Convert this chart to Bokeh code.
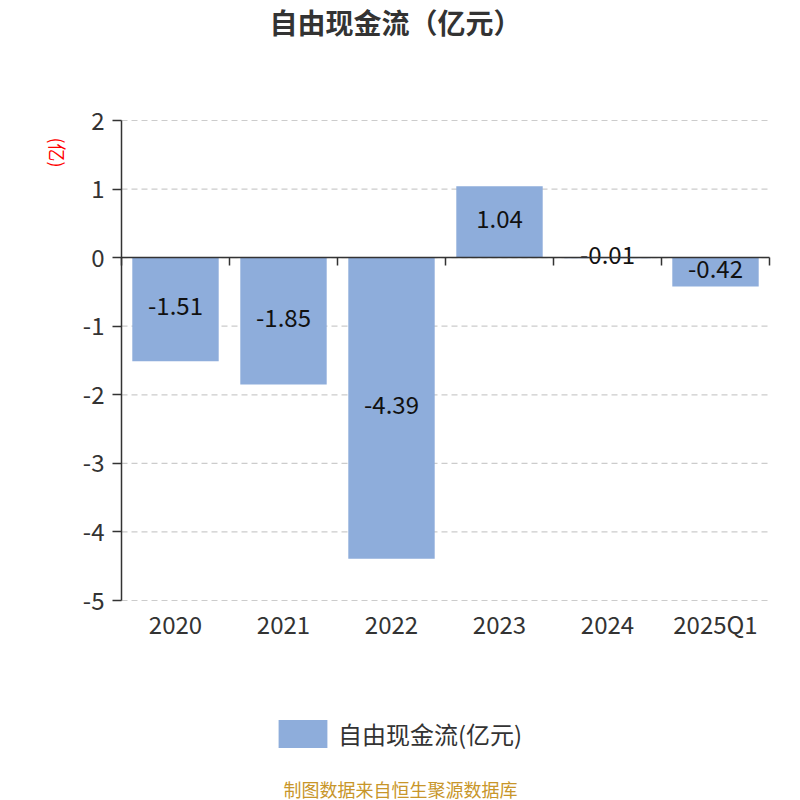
from bokeh.plotting import figure
from bokeh.models import (Range1d, LinearAxis, FixedTicker, Label, Legend, LegendItem, ColumnDataSource)
from bokeh.embed import file_html
from bokeh.resources import INLINE
import math

categories = ["2020", "2021", "2022", "2023", "2024", "2025Q1"]
values = [-1.51, -1.85, -4.39, 1.04, -0.01, -0.42]
value_labels = ["-1.51", "-1.85", "-4.39", "1.04", "-0.01", "-0.42"]
y_ticks = [-5, -4, -3, -2, -1, 0, 1, 2]
series_name = "自由现金流(亿元)"
title_text = "自由现金流（亿元）"
unit_text = "(亿)"
footer_text = "制图数据来自恒生聚源数据库"

FONT = "Noto Sans CJK SC"
BAR = "#8eaddb"
TXT = "#333333"

# layout (pixels): plotting area inside the canvas
W, H = 800, 800
PL, PR, PT, PB = 121, 769, 120, 600

n = len(categories)
ymin, ymax = min(y_ticks), max(y_ticks)
xpx = (PR - PL) / n
ypx = (PB - PT) / (ymax - ymin)
x_range = Range1d(-PL / xpx, n + (W - PR) / xpx)
y_range = Range1d(ymin - (H - PB) / ypx, ymax + PT / ypx)

centers = [i + 0.5 for i in range(n)]
src = ColumnDataSource(dict(x=centers, val=values, mid=[v / 2 for v in values], lab=value_labels))

p = figure(width=W, height=H, output_backend="svg", toolbar_location=None,
           x_range=x_range, y_range=y_range, x_axis_location=None, y_axis_location=None,
           min_border=0)
p.outline_line_color = None
p.background_fill_color = "white"
p.border_fill_color = "white"
p.xgrid.grid_line_color = None
p.ygrid.grid_line_color = None

# dashed horizontal grid lines across the plotting area
p.segment(x0=[0] * len(y_ticks), x1=[n] * len(y_ticks), y0=y_ticks, y1=y_ticks,
          line_color="#cccccc", line_width=1.2, line_dash="6 4")

# y axis at x = 0
ya = LinearAxis(fixed_location=0, bounds=(ymin, ymax), ticker=FixedTicker(ticks=y_ticks))
ya.major_label_overrides = {t: str(t) for t in y_ticks}
ya.axis_line_color = "#333333"
ya.axis_line_width = 1.5
ya.major_tick_line_color = "#333333"
ya.major_tick_line_width = 1.5
ya.major_tick_out = 9
ya.major_tick_in = 0
ya.minor_tick_line_color = None
ya.major_label_text_font = FONT
ya.major_label_text_font_size = "24px"
ya.major_label_text_color = TXT
ya.major_label_standoff = 8
p.add_layout(ya, "left")

# category labels along the bottom of the plotting area
xa = LinearAxis(fixed_location=ymin, ticker=FixedTicker(ticks=centers))
xa.major_label_overrides = {c: lab for c, lab in zip(centers, categories)}
xa.axis_line_color = None
xa.major_tick_line_color = None
xa.minor_tick_line_color = None
xa.major_tick_out = 0
xa.major_tick_in = 0
xa.major_label_text_font = FONT
xa.major_label_text_font_size = "24px"
xa.major_label_text_color = TXT
xa.major_label_standoff = 5
p.add_layout(xa, "below")

# zero line with boundary ticks
bounds = list(range(n + 1))
za = LinearAxis(fixed_location=0, bounds=(0, n), ticker=FixedTicker(ticks=bounds))
za.axis_line_color = "#333333"
za.axis_line_width = 1.5
za.major_tick_line_color = "#333333"
za.major_tick_line_width = 1.5
za.major_tick_out = 8
za.major_tick_in = 0
za.minor_tick_line_color = None
za.major_label_overrides = {b: "" for b in bounds}
p.add_layout(za, "below")

r = p.vbar(x="x", top="val", bottom=0, width=0.8, source=src, fill_color=BAR, line_color=None)
p.text(x="x", y="mid", text="lab", source=src, text_align="center", text_baseline="middle",
       y_offset=-3, text_font_size="24px", text_color="#111111", text_font={"value": FONT})

legend = Legend(items=[LegendItem(label=series_name, renderers=[r])], location=(272, H - 751),
                glyph_width=61, glyph_height=35, label_standoff=5, padding=0, margin=0,
                border_line_alpha=0, background_fill_alpha=0,
                label_text_font=FONT, label_text_font_size="24px", label_text_color=TXT)
p.add_layout(legend, "center")

p.add_layout(Label(x=395, y=H - 21, x_units="screen", y_units="screen", text=title_text,
                   text_align="center", text_baseline="middle", text_font=FONT,
                   text_font_size="28px", text_font_style="bold", text_color=TXT))
p.add_layout(Label(x=57, y=H - 152, x_units="screen", y_units="screen", text=unit_text,
                   angle=-math.pi / 2, text_align="center", text_baseline="middle", text_font=FONT,
                   text_font_size="18px", text_color="red"))
p.add_layout(Label(x=400, y=H - 788, x_units="screen", y_units="screen", text=footer_text,
                   text_align="center", text_baseline="middle", text_font=FONT,
                   text_font_size="18px", text_color="#c8962a"))

open("out.html", "w").write(file_html(p, INLINE))
